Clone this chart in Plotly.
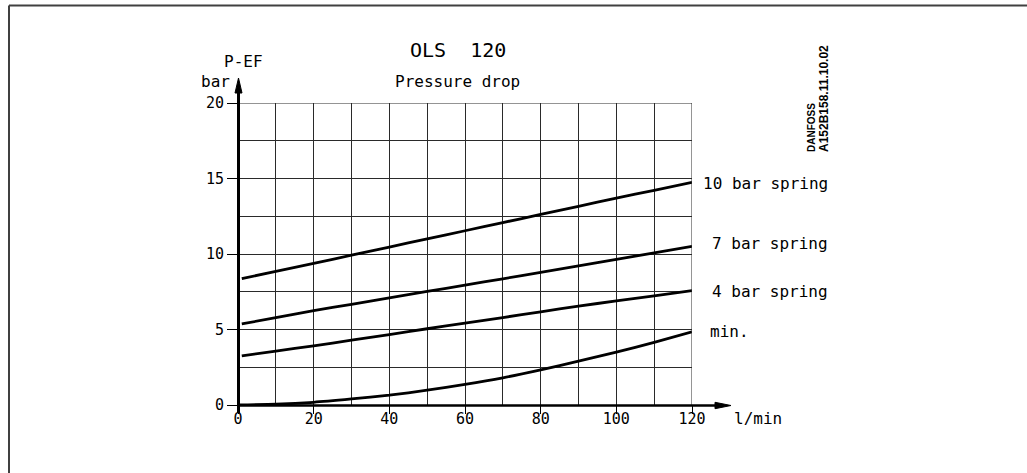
import plotly.graph_objects as go

# ---- data ----
flow_spring = [1, 10, 20, 30, 40, 50, 60, 70, 80, 90, 100, 110, 120]
p_10bar = [8.37, 8.85, 9.38, 9.92, 10.46, 11.0, 11.54, 12.08, 12.62, 13.16, 13.7, 14.22, 14.74]
p_7bar = [5.37, 5.78, 6.25, 6.67, 7.10, 7.52, 7.94, 8.36, 8.78, 9.21, 9.64, 10.07, 10.5]
p_4bar = [3.25, 3.57, 3.92, 4.29, 4.66, 5.05, 5.42, 5.79, 6.17, 6.55, 6.89, 7.23, 7.57]
flow_min = [0, 10, 20, 30, 40, 50, 60, 70, 80, 90, 100, 110, 120]
p_min = [0, 0.05, 0.18, 0.4, 0.65, 0.98, 1.36, 1.8, 2.33, 2.9, 3.5, 4.15, 4.84]

series_names = ["10 bar spring", "7 bar spring", "4 bar spring", "min."]
x_ticks = [0, 20, 40, 60, 80, 100, 120]
y_ticks = [0, 5, 10, 15, 20]

W, H = 1027, 473
ML, MR, MT, MB = 238, 335, 103, 68
PW, PH = W - ML - MR, H - MT - MB


def px(X):
    return (X - ML) / PW


def py(Y):
    return (H - MB - Y) / PH


MONO = "DejaVu Sans Mono"
fig = go.Figure()

curves = [(flow_spring, p_10bar), (flow_spring, p_7bar), (flow_spring, p_4bar), (flow_min, p_min)]
for (xs, ys), name in zip(curves, series_names):
    fig.add_trace(go.Scatter(x=xs, y=ys, mode="lines", name=name,
                             line=dict(color="black", width=2.8, shape="spline", smoothing=0.6),
                             showlegend=False, hoverinfo="skip"))

grid_col = "#2a2a2a"
fig.update_xaxes(range=[0, 120], tickmode="array", tickvals=x_ticks,
                 ticktext=[str(v) for v in x_ticks],
                 ticks="outside", ticklen=8, tickwidth=1, tickcolor="black",
                 ticklabelstandoff=-8,
                 showgrid=True, gridcolor=grid_col, gridwidth=1,
                 minor=dict(tickmode="linear", tick0=0, dtick=10, showgrid=True,
                            gridcolor=grid_col, gridwidth=1, ticks=""),
                 zeroline=False, showline=False,
                 tickfont=dict(family=MONO, size=15, color="black"))
fig.update_yaxes(range=[0, 20], tickmode="array", tickvals=y_ticks,
                 ticktext=[str(v) for v in y_ticks],
                 ticks="outside", ticklen=10, tickwidth=1, tickcolor="black",
                 showgrid=True, gridcolor=grid_col, gridwidth=1,
                 minor=dict(tickmode="linear", tick0=0, dtick=2.5, showgrid=True,
                            gridcolor=grid_col, gridwidth=1, ticks=""),
                 zeroline=False, showline=False,
                 tickfont=dict(family=MONO, size=15, color="black"))

shapes = []
# plot border top/right (grid end)
shapes.append(dict(type="line", xref="x", yref="y", x0=0, x1=120, y0=20, y1=20,
                   line=dict(color=grid_col, width=1)))
shapes.append(dict(type="line", xref="x", yref="y", x0=120, x1=120, y0=0, y1=20,
                   line=dict(color=grid_col, width=1)))
# axis lines with arrows
shapes.append(dict(type="line", xref="paper", yref="paper", x0=px(238), x1=px(717),
                   y0=py(405.5), y1=py(405.5), line=dict(color="black", width=2.5)))
shapes.append(dict(type="path", xref="paper", yref="paper",
                   path=f"M{px(715)},{py(402.3)} L{px(731)},{py(405.5)} L{px(715)},{py(408.7)} Z",
                   fillcolor="black", line=dict(color="black", width=1)))
shapes.append(dict(type="line", xref="paper", yref="paper", x0=px(238.5), x1=px(238.5),
                   y0=py(413), y1=py(91), line=dict(color="black", width=3)))
shapes.append(dict(type="path", xref="paper", yref="paper",
                   path=f"M{px(235)},{py(93)} L{px(238.5)},{py(78)} L{px(242)},{py(93)} Z",
                   fillcolor="black", line=dict(color="black", width=1)))
# outer frame (top and left)
shapes.append(dict(type="line", xref="paper", yref="paper", x0=px(9), x1=px(1030),
                   y0=py(5.5), y1=py(5.5), line=dict(color="#404040", width=2)))
shapes.append(dict(type="line", xref="paper", yref="paper", x0=px(9), x1=px(9),
                   y0=py(5.5), y1=py(480), line=dict(color="#404040", width=2)))

ann = []


def txt(s, x, y, size=16, xanchor="center", yanchor="middle", family=MONO, angle=0):
    ann.append(dict(text=s, xref="paper", yref="paper", x=px(x), y=py(y),
                    xanchor=xanchor, yanchor=yanchor, showarrow=False, textangle=angle,
                    font=dict(family=family, size=size, color="black")))


txt("OLS  120", 458, 50, size=20)
txt("Pressure drop", 457, 81.5, size=16)
txt("P-EF", 243, 61.5, size=16)
txt("bar", 215, 81.5, size=16)
txt("l/min", 732, 418, size=16, xanchor="left")
label_y = [183.5, 243.5, 291, 331.5]
for name, yy in zip(series_names, label_y):
    if name == "min.":
        txt(name, 708, yy, size=16, xanchor="left")
    else:
        txt(name, 830, yy, size=16, xanchor="right")
txt("<b>DANFOSS</b>", 811.5, 154, size=10, yanchor="bottom", family="Liberation Sans", angle=-90)
txt("<b>A152B158.11.10.02</b>", 823.5, 154, size=12, yanchor="bottom", family="Liberation Sans", angle=-90)

fig.update_layout(width=W, height=H, margin=dict(l=ML, r=MR, t=MT, b=MB, pad=0),
                  paper_bgcolor="white", plot_bgcolor="white",
                  shapes=shapes, annotations=ann, showlegend=False)

fig.write_html("out.html", config={"displayModeBar": False},
               post_script="document.body.style.margin='0';")
